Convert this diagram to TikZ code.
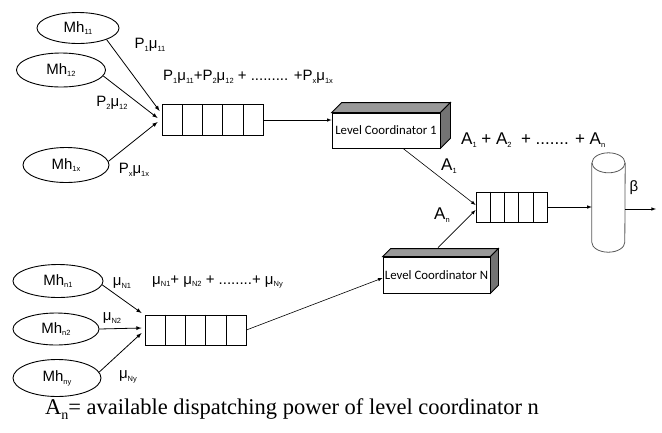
\documentclass[tikz,border=0pt]{standalone}
\usepackage{fontspec}
\setmainfont{Liberation Serif}
\newfontfamily\labfont{Liberation Sans}
\newfontfamily\boxfont{Carlito}
\usepackage{tikz}
\usetikzlibrary{shapes.geometric,calc}
\newcommand{\lo}[1]{\raisebox{-2.8pt}{\fontsize{7.5}{8}\selectfont #1}}
\tikzstyle{host} = [ellipse, draw=black, line width=0.9pt, inner sep=0pt, font=\labfont\fontsize{15}{17}\selectfont]
\tikzstyle{rate} = [inner sep=0pt, font=\labfont\fontsize{15}{17}\selectfont]
\tikzstyle{big} = [inner sep=0pt, font=\labfont\fontsize{17}{19}\selectfont]
\tikzstyle{queue} = [rectangle, draw=black, line width=0.8pt, minimum width=101pt, minimum height=31pt, inner sep=0pt]
\tikzstyle{levelbox} = [rectangle, draw=black, line width=0.8pt, fill=white, minimum width=108pt, minimum height=35pt, inner sep=0pt, font=\boxfont\fontsize{12.8}{14}\selectfont]
\tikzstyle{store} = [rectangle, minimum width=33pt, minimum height=99pt, inner sep=0pt]
\tikzstyle{cylline} = [draw=black!65, line width=0.8pt]
\tikzstyle{arrow} = [->,>=latex, line width=0.8pt]
\begin{document}
\begin{tikzpicture}[x=1pt,y=-1pt]
	\useasboundingbox (0,0) rectangle (662,432);

	\node (m11) [host, minimum width=82pt, minimum height=31pt] at (78,28) {Mh\lo{11}};
	\node (m12) [host, minimum width=89pt, minimum height=34pt] at (61,70) {Mh\lo{12}};
	\node (m1x) [host, minimum width=86pt, minimum height=35pt] at (66,165) {Mh\lo{1x}};
	\node (q1) [queue] at (212.5,120) {};

	\node (mn1) [host, minimum width=90pt, minimum height=33pt] at (58,281) {Mh\lo{n1}};
	\node (mn2) [host, minimum width=86pt, minimum height=32pt] at (56,329) {Mh\lo{n2}};
	\node (mny) [host, minimum width=88pt, minimum height=37pt] at (57,378) {Mh\lo{ny}};
	\node (q3) [queue, minimum height=30pt] at (195.5,330) {};

	\node (lc1) [levelbox] at (386,130.5) {Level Coordinator 1};
	\node (lcn) [levelbox, minimum width=107pt, minimum height=36pt] at (436.5,275) {Level Coordinator N};
	\node (q2) [queue, minimum width=71pt, minimum height=30pt] at (511.5,207) {};
	\node (db) [store] at (608.5,202.5) {};
	\coordinate (out) at (656,209);

	\foreach \q in {q1,q2,q3}
		\foreach \i in {1,...,4}
			\draw [line width=0.8pt] ($(\q.north west)!\i/5!(\q.north east)$) -- ($(\q.south west)!\i/5!(\q.south east)$);

	\draw [cylline] ([yshift=-10pt]db.north west) -- ([yshift=10pt]db.south west) arc [start angle=180, end angle=360, x radius=16.5pt, y radius=10pt] -- ([yshift=-10pt]db.north east);
	\draw [cylline] ([yshift=-10pt]db.north) ellipse [x radius=16.5pt, y radius=10pt];

	\draw [arrow, line width=0.6pt] (lcn.north) ++(1.5,-9) -- ([yshift=-3pt]q2.west);
	\foreach \b/\d in {lc1/10, lcn/8} {
		\draw [line width=0.8pt, fill=black!40] (\b.north west) -- ++(\d,-\d) -- ($(\b.north east)+(\d,-\d)$) -- (\b.north east) -- cycle;
		\draw [line width=0.8pt, fill=black!55] (\b.north east) -- ++(\d,-\d) -- ($(\b.south east)+(\d,-\d)$) -- (\b.south east) -- cycle;
	}

	\node (r11) [rate] at (150,45) {P\lo{1}μ\lo{11}};
	\node (r12) [rate] at (112,103) {P\lo{2}μ\lo{12}};
	\node (r1x) [rate] at (134,170) {P\lo{x}μ\lo{1x}};
	\node (sum1) [rate, anchor=west] at (163,77) {P\lo{1}μ\lo{11}+P\lo{2}μ\lo{12} + ......... +P\lo{x}μ\lo{1x}};
	\node (rn1) [rate] at (122,283) {μ\lo{N1}};
	\node (rn2) [rate] at (112,318) {μ\lo{N2}};
	\node (rny) [rate] at (128,377) {μ\lo{Ny}};
	\node (sum3) [rate, anchor=west] at (152,282) {μ\lo{N1}+ μ\lo{N2} + ........+ μ\lo{Ny}};
	\node (ra1) [big] at (449,166) {A\lo{1}};
	\node (ran) [big] at (442,215) {A\lo{n}};
	\node (sum2) [big, anchor=west] at (461,140) {A\lo{1} + A\lo{2} \ + ....... + A\lo{n}};
	\node (beta) [rate] at (634,188) {β};

	\draw [arrow] (m11.-22) -- ([xshift=-2pt,yshift=9pt]q1.west);
	\draw [arrow] (m12.-8) -- ([xshift=-4pt,yshift=2pt]q1.west);
	\draw [arrow] (m1x.5) -- ([xshift=-4pt,yshift=-2pt]q1.west);
	\draw [arrow] (mn1.-5) -- ([xshift=-3pt,yshift=17pt]q3.west);
	\draw [arrow] (mn2.east) -- ([xshift=-3pt,yshift=2pt]q3.west);
	\draw [arrow] (mny.8) -- ([xshift=-3pt,yshift=-3pt]q3.west);
	\draw [arrow, line width=0.6pt] (q1.east) -- (q1.east -| lc1.west);
	\draw [arrow, line width=0.6pt] (q3.east) -- ([yshift=-3pt]lcn.west);
	\draw [arrow, line width=0.6pt] ([xshift=17pt]lc1.south) -- ([yshift=2pt]q2.west);
	\draw [arrow, line width=0.6pt] (q2.east) -- (q2.east -| db.west);
	\draw [arrow, line width=0.6pt] (db.east |- out) -- (out);

	\node (note) at (292,409) {\fontsize{22.5}{26}\selectfont A\raisebox{-0.2em}{\fontsize{14}{14}\selectfont n}= available dispatching power of level coordinator n};

\end{tikzpicture}
\end{document}
